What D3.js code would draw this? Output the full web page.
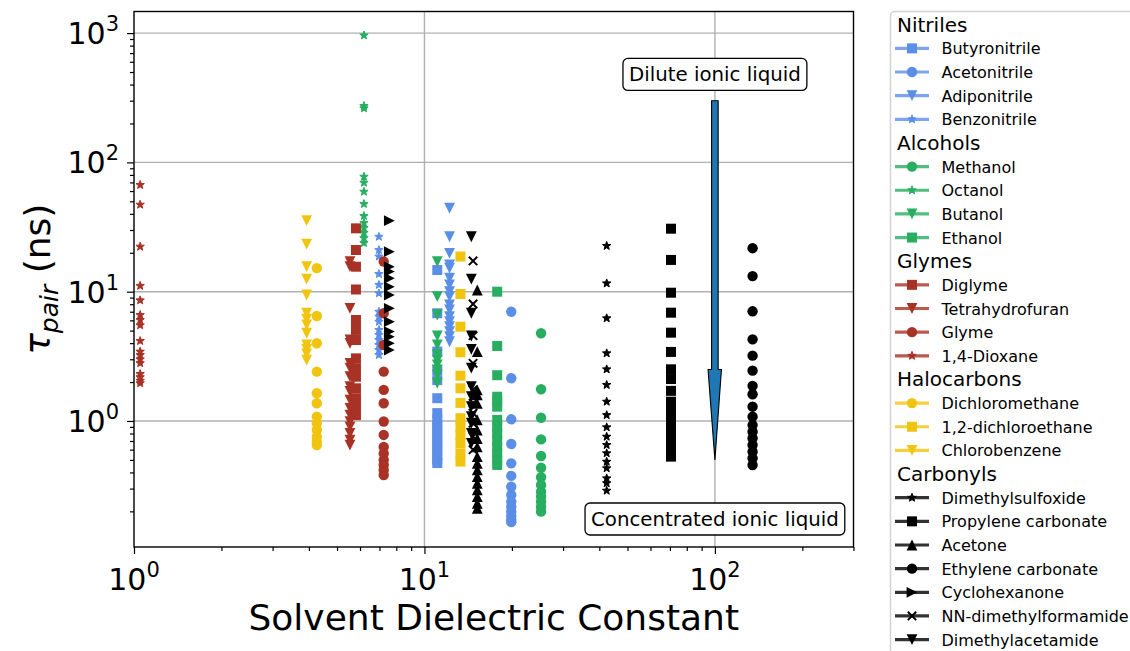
<!DOCTYPE html>
<html><head><meta charset="utf-8">
<script src="https://cdn.jsdelivr.net/npm/d3@7"></script>
<style>
body{margin:0;background:#fff;}
svg{display:block;font-family:"DejaVu Sans",sans-serif;}
</style>
</head><body>
<svg id="chart" width="1130" height="651"></svg>
<script>
// ---------------- DATA ----------------
const groupNames = ["Nitriles", "Alcohols", "Glymes", "Halocarbons", "Carbonyls"];
const solventNames = ["Butyronitrile","Acetonitrile","Adiponitrile","Benzonitrile",
  "Methanol","Octanol","Butanol","Ethanol",
  "Diglyme","Tetrahydrofuran","Glyme","1,4-Dioxane",
  "Dichloromethane","1,2-dichloroethane","Chlorobenzene",
  "Dimethylsulfoxide","Propylene carbonate","Acetone","Ethylene carbonate","Cyclohexanone","NN-dimethylformamide","Dimethylacetamide"];
const solventGroup = [0,0,0,0, 1,1,1,1, 2,2,2,2, 3,3,3, 4,4,4,4,4,4,4];
const dielectric = [11.07, 19.9, 12.2, 6.97, 25.2, 6.19, 11.07, 17.8, 5.81, 5.54, 7.24, 1.05, 4.26, 13.3, 3.93, 42.4, 70.6, 15.2, 134.8, 7.57, 14.7, 14.5];

const tauButyronitrile = [14.7, 6.81, 3.44, 2.48, 2.07, 1.50, 1.15, 1.02, 0.93, 0.85, 0.78, 0.71, 0.65, 0.60, 0.546, 0.50, 0.473];
const tauAcetonitrile = [7.0, 2.14, 1.03, 0.664, 0.47, 0.376, 0.31, 0.268, 0.238, 0.217, 0.199, 0.184, 0.172, 0.165];
const tauAdiponitrile = [44.2, 26.6, 19.8, 16.1, 15.2, 12.7, 11.3, 10.0, 9.15, 7.89, 7.22, 6.41, 5.86, 5.36, 4.91, 4.49, 4.1];
const tauBenzonitrile = [26.6, 21.0, 18.7, 13.7, 11.3, 9.72, 7.0, 6.41, 5.86, 5.06, 4.63, 4.23, 3.87, 3.54, 3.24];
const tauMethanol = [4.77, 1.76, 1.06, 0.72, 0.536, 0.435, 0.367, 0.32, 0.284, 0.26, 0.238, 0.217, 0.199];
const tauOctanol = [960, 273, 262, 77.5, 69.6, 59.3, 47.7, 38.5, 34.0, 31.1, 28.5, 26.0, 23.8];
const tauButanol = [17.1, 9.15, 6.6, 4.54, 3.87, 3.24, 2.96, 2.71, 2.48, 2.27, 1.96];
const tauEthanol = [10.0, 3.80, 2.26, 1.54, 1.41, 1.29, 1.02, 0.90, 0.80, 0.71, 0.63, 0.56, 0.50, 0.457];
const tauDiglyme = [30.9, 21.0, 15.6, 10.4, 6.04, 5.06, 4.23, 3.05, 2.56, 2.20, 1.79, 1.50, 1.29, 1.11];
const tauTHF = [17.1, 15.6, 7.44, 4.23, 3.99, 2.79, 2.56, 2.20, 1.84, 1.69, 1.45, 1.25, 1.11, 0.99, 0.90, 0.80, 0.71, 0.65];
const tauGlyme = [17.1, 6.81, 3.87, 2.41, 1.74, 1.37, 0.99, 0.78, 0.63, 0.56, 0.50, 0.457, 0.418, 0.382];
const tauDioxane = [66.9, 47.1, 22.3, 11.1, 8.58, 6.6, 6.04, 5.5, 4.16, 3.44, 3.24, 3.0, 2.8, 2.31, 2.18, 2.05, 1.96];
const tauDCM = [15.2, 6.49, 3.99, 2.41, 1.64, 1.37, 1.08, 0.96, 0.852, 0.756, 0.692, 0.652];
const tauDCE = [18.7, 9.6, 5.36, 3.40, 2.24, 1.79, 1.38, 1.05, 0.90, 0.78, 0.67, 0.56, 0.485];
const tauChlorobenzene = [35.4, 23.3, 15.6, 12.5, 9.43, 6.81, 6.12, 5.53, 4.77, 3.87, 3.58, 3.30, 2.96];
const tauDMSO = [22.6, 11.6, 6.23, 3.34, 2.51, 1.90, 1.41, 1.11, 0.894, 0.756, 0.652, 0.563, 0.484, 0.431, 0.36, 0.33, 0.289];
const tauPC = [30.7, 17.6, 9.82, 6.88, 4.82, 3.42, 2.51, 2.11, 1.71, 1.41, 1.22, 1.05, 0.90, 0.78, 0.67, 0.579, 0.53];
const tauAcetone = [10.3, 3.44, 1.74, 1.59, 1.37, 1.02, 0.85, 0.73, 0.63, 0.53, 0.47, 0.418, 0.371, 0.33, 0.293, 0.26, 0.231, 0.211];
const tauEC = [21.7, 13.2, 7.05, 4.28, 3.2, 2.45, 1.87, 1.61, 1.29, 1.08, 0.93, 0.826, 0.735, 0.652, 0.579, 0.515, 0.457];
const tauCyclohexanone = [35.4, 20.4, 15.6, 14.3, 12.7, 10.9, 9.43, 7.44, 5.86, 4.91, 4.49, 3.99, 3.54];
const tauDMF = [17.3, 8.03, 4.57, 2.79, 1.74, 1.37, 1.15, 0.96, 0.76, 0.60];
const tauDMAc = [26.6, 12.5, 6.81, 4.54, 3.58, 2.56, 1.84, 1.54, 1.29, 1.08, 0.96, 0.80, 0.67];

const tauSeries = [tauButyronitrile, tauAcetonitrile, tauAdiponitrile, tauBenzonitrile,
  tauMethanol, tauOctanol, tauButanol, tauEthanol,
  tauDiglyme, tauTHF, tauGlyme, tauDioxane,
  tauDCM, tauDCE, tauChlorobenzene,
  tauDMSO, tauPC, tauAcetone, tauEC, tauCyclohexanone, tauDMF, tauDMAc];

const xMajorTicks = [1, 10, 100];
const xTickExp = ["0", "1", "2"];
const yMajorTicks = [1, 10, 100, 1000];
const yTickExp = ["0", "1", "2", "3"];
const xDomain = [1, 300];
const yDomain = [0.106, 1469];

// annotation data
const arrowFrom = [100, 300];
const arrowTo = [100, 0.5];
const arrowHalfWidth = 2.6;
const arrowHeadHalfWidth = 5.3;
const arrowHeadLength = 2.0;
const labelDilute = {text: "Dilute ionic liquid", x: 100, y: 480};
const labelConc = {text: "Concentrated ionic liquid", x: 100, y: 0.175};

// ---------------- STYLE ----------------
const groupColors = ["#5b8ee6", "#27ae60", "#a93226", "#f1c40f", "#000000"];
const solventMarker = ["square","circle","triDown","star",
  "circle","star","triDown","square",
  "square","triDown","circle","star",
  "circle","square","triDown",
  "star","square","triUp","circle","triRight","x","triDown"];

function markerPath(kind) {
  const s = 5, c = 5.2, t = 5.4, st = 4.4, xs = 4.2;
  switch (kind) {
    case "square": return `M${-s},${-s}H${s}V${s}H${-s}Z`;
    case "circle": return `M${c},0A${c},${c} 0 1,1 ${-c},0A${c},${c} 0 1,1 ${c},0Z`;
    case "triDown": return `M0,${t}L${-t},${-t}L${t},${-t}Z`;
    case "triUp": return `M0,${-t}L${-t},${t}L${t},${t}Z`;
    case "triRight": return `M${t},0L${-t},${-t}L${-t},${t}Z`;
    case "star": {
      let p = "";
      for (let i = 0; i < 10; i++) {
        const r = i % 2 === 0 ? st : st * 0.42;
        const a = -Math.PI / 2 + i * Math.PI / 5;
        p += (i === 0 ? "M" : "L") + (r * Math.cos(a)).toFixed(2) + "," + (r * Math.sin(a)).toFixed(2);
      }
      return p + "Z";
    }
    case "x": return `M${-xs},${-xs}L${xs},${xs}M${-xs},${xs}L${xs},${-xs}`;
  }
}
const markerStroke = k => k === "x" ? 2 : (k === "star" ? 1 : 0);

// ---------------- CHART ----------------
const svg = d3.select("#chart");
const plotL = 134, plotR = 853.5, plotT = 11.5, plotB = 547;
const x = d3.scaleLog().domain(xDomain).range([plotL, plotR]);
const y = d3.scaleLog().domain(yDomain).range([plotB, plotT]);

const minorOf = (lo, hi) => {
  const out = [];
  for (let d = 0.1; d < hi; d *= 10)
    for (let k = 2; k <= 9; k++) { const v = +(k * d).toPrecision(3); if (v >= lo && v <= hi) out.push(v); }
  return out;
};
const xMinor = minorOf(xDomain[0], xDomain[1]);
const yMinor = minorOf(yDomain[0], yDomain[1]);

// grid
const grid = svg.append("g").attr("stroke", "#b0b0b0").attr("stroke-width", 1.4);
grid.selectAll("line.gx").data(xMajorTicks.filter(v => v > xDomain[0])).join("line")
  .attr("x1", d => x(d)).attr("x2", d => x(d)).attr("y1", plotT).attr("y2", plotB);
grid.selectAll("line.gy").data(yMajorTicks).join("line")
  .attr("x1", plotL).attr("x2", plotR).attr("y1", d => y(d)).attr("y2", d => y(d));

// points
const points = [];
tauSeries.forEach((vals, i) => vals.forEach(v => points.push({i, eps: dielectric[i], tau: v})));
const colorOf = i => groupColors[solventGroup[i]];
const pts = svg.append("g");
pts.selectAll("path").data(points).join("path")
  .attr("transform", d => `translate(${x(d.eps)},${y(d.tau)})`)
  .attr("d", d => markerPath(solventMarker[d.i]))
  .attr("fill", d => solventMarker[d.i] === "x" ? "none" : colorOf(d.i))
  .attr("stroke", d => colorOf(d.i))
  .attr("stroke-width", d => markerStroke(solventMarker[d.i]))
  .attr("stroke-linejoin", "round");

// arrow
const ax = arrowFrom[0];
const headBase = arrowTo[1] + arrowHeadLength;
const arrowPoly = [
  [ax - arrowHalfWidth, arrowFrom[1]], [ax + arrowHalfWidth, arrowFrom[1]],
  [ax + arrowHalfWidth, headBase], [ax + arrowHeadHalfWidth, headBase],
  [arrowTo[0], arrowTo[1]],
  [ax - arrowHeadHalfWidth, headBase], [ax - arrowHalfWidth, headBase]
];
svg.append("path")
  .attr("d", "M" + arrowPoly.map(p => `${x(p[0]).toFixed(2)},${y(p[1]).toFixed(2)}`).join("L") + "Z")
  .attr("fill", "#1f77b4").attr("stroke", "#000").attr("stroke-width", 1.1).attr("stroke-linejoin", "miter");

// annotation labels
function boxLabel(lbl) {
  const g = svg.append("g");
  const t = g.append("text").attr("x", x(lbl.x)).attr("y", y(lbl.y)).attr("text-anchor", "middle")
    .attr("dy", "0.36em").attr("font-size", 19.8).attr("fill", "#000").text(lbl.text);
  const bb = t.node().getBBox();
  g.insert("rect", "text").attr("x", bb.x - 6).attr("y", bb.y - 5).attr("width", bb.width + 12).attr("height", bb.height + 9)
    .attr("rx", 5).attr("fill", "#fff").attr("stroke", "#000").attr("stroke-width", 1.3);
}
boxLabel(labelDilute);
boxLabel(labelConc);

// spines
svg.append("rect").attr("x", plotL).attr("y", plotT).attr("width", plotR - plotL).attr("height", plotB - plotT)
  .attr("fill", "none").attr("stroke", "#000").attr("stroke-width", 1.4);

// axes ticks
const gx = svg.append("g").attr("transform", `translate(0,${plotB})`);
gx.call(d3.axisBottom(x).tickValues(xMajorTicks).tickSize(7).tickFormat(""));
const gxm = svg.append("g").attr("transform", `translate(0,${plotB})`);
gxm.call(d3.axisBottom(x).tickValues(xMinor).tickSize(4).tickFormat(""));
const gy = svg.append("g").attr("transform", `translate(${plotL},0)`);
gy.call(d3.axisLeft(y).tickValues(yMajorTicks).tickSize(7).tickFormat(""));
const gym = svg.append("g").attr("transform", `translate(${plotL},0)`);
gym.call(d3.axisLeft(y).tickValues(yMinor).tickSize(4).tickFormat(""));
[gx, gxm, gy, gym].forEach(g => {
  g.select(".domain").remove();
  g.selectAll("line").attr("stroke", "#000").attr("stroke-width", 1.2);
});

// tick labels
const tickFont = 30;
const xt = svg.append("g").selectAll("text").data(xMajorTicks).join("text")
  .attr("x", d => x(d)).attr("y", 590).attr("text-anchor", "middle").attr("font-size", tickFont).attr("fill", "#000");
xt.text("10").append("tspan").attr("dy", -13).attr("font-size", tickFont * 0.7).text((d, i) => xTickExp[i]);
const yt = svg.append("g").selectAll("text").data(yMajorTicks).join("text")
  .attr("x", 119).attr("y", d => y(d) + 11).attr("text-anchor", "end").attr("font-size", tickFont).attr("fill", "#000");
yt.text("10").append("tspan").attr("dy", -13).attr("font-size", tickFont * 0.7).text((d, i) => yTickExp[i]);

// axis labels
svg.append("text").attr("x", (plotL + plotR) / 2).attr("y", 630).attr("text-anchor", "middle")
  .attr("font-size", 36).attr("fill", "#000").text("Solvent Dielectric Constant");
const yl = svg.append("text").attr("transform", `translate(50,${(plotT + plotB) / 2}) rotate(-90)`)
  .attr("text-anchor", "middle").attr("font-size", 36).attr("fill", "#000");
yl.append("tspan").attr("font-style", "italic").text("τ");
yl.append("tspan").attr("font-style", "italic").attr("font-size", 25).attr("dy", 8).text("pair");
yl.append("tspan").attr("dy", -8).text(" (ns)");

// legend
const rows = [];
groupNames.forEach((gname, gi) => {
  rows.push({header: true, label: gname});
  solventNames.forEach((s, i) => { if (solventGroup[i] === gi) rows.push({header: false, label: s, i}); });
});
const leg = svg.append("g");
leg.append("rect").attr("x", 890.5).attr("y", 11.5).attr("width", 300).attr("height", 700).attr("rx", 4)
  .attr("fill", "#fff").attr("stroke", "#d3d3d3").attr("stroke-width", 1.5);
const rowY = k => 24.7 + 23.65 * k;
const lr = leg.selectAll("g.row").data(rows).join("g").attr("transform", (d, k) => `translate(0,${rowY(k)})`);
lr.filter(d => d.header).append("text").attr("x", 897).attr("y", 7).attr("font-size", 20).attr("fill", "#000").text(d => d.label);
const items = lr.filter(d => !d.header);
items.append("line").attr("x1", 895).attr("x2", 929).attr("y1", 0).attr("y2", 0)
  .attr("stroke", d => colorOf(d.i)).attr("stroke-width", 3.2).attr("stroke-opacity", 0.8);
items.append("path").attr("transform", "translate(912,0)").attr("d", d => markerPath(solventMarker[d.i]))
  .attr("fill", d => solventMarker[d.i] === "x" ? "none" : colorOf(d.i))
  .attr("stroke", d => colorOf(d.i))
  .attr("stroke-width", d => markerStroke(solventMarker[d.i])).attr("stroke-linejoin", "round");
items.append("text").attr("x", 941.5).attr("y", 6).attr("font-size", 16).attr("fill", "#000").text(d => d.label);
</script>
</body></html>
